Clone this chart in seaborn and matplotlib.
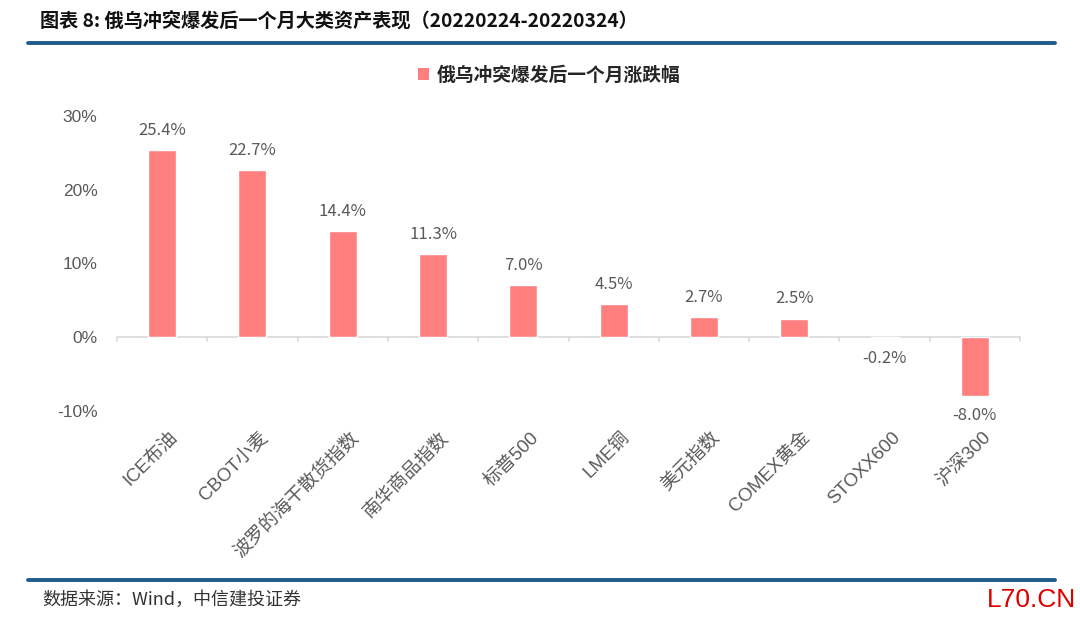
import matplotlib
matplotlib.use("Agg")
import matplotlib.pyplot as plt
import matplotlib.transforms as mtransforms
import seaborn as sns
import pandas as pd
from matplotlib.lines import Line2D
from matplotlib.patches import Patch

categories = ["ICE布油", "CBOT小麦", "波罗的海干散货指数", "南华商品指数", "标普500",
              "LME铜", "美元指数", "COMEX黄金", "STOXX600", "沪深300"]
values = [25.4, 22.7, 14.4, 11.3, 7.0, 4.5, 2.7, 2.5, -0.2, -8.0]
yticks = [-10, 0, 10, 20, 30]
series_name = "俄乌冲突爆发后一个月涨跌幅"
title = "图表 8: 俄乌冲突爆发后一个月大类资产表现（20220224-20220324）"
source = "数据来源：Wind，中信建投证券"
watermark = "L70.CN"

sns.set_theme(style="white")
plt.rcParams['font.family'] = ['Noto Sans CJK SC', 'DejaVu Sans']
plt.rcParams['axes.unicode_minus'] = False

bar_color = "#FF7F7F"
gray = "#595959"

df = pd.DataFrame({"cat": categories, "val": values})

fig = plt.figure(figsize=(10.8, 6.19), dpi=100)
ax = fig.add_axes([117/1080, 1-410.7/619, (1020-117)/1080, (410.7-116)/619])
sns.barplot(data=df, x="cat", y="val", color=bar_color, width=0.31, ax=ax, saturation=1)

ax.set_xlim(-0.5, len(categories)-0.5)
ax.set_ylim(-10, 30)
ax.set_yticks(yticks)
ax.set_yticklabels([f"{t}%" for t in yticks], fontsize=12.5, color=gray,
                   family=['Liberation Sans', 'DejaVu Sans'])
ax.set_xlabel("")
ax.set_ylabel("")
for s in ax.spines.values():
    s.set_visible(False)
ax.tick_params(axis='y', length=0, pad=14)
ax.tick_params(axis='x', length=0, pad=13)
ax.set_xticks(range(len(categories)))
ax.set_xticklabels(categories, rotation=45, ha='right', rotation_mode='anchor',
                   fontsize=13.5, color=gray, family=['Liberation Sans', 'Noto Sans CJK SC'])
offset = mtransforms.ScaledTranslation(7/100, 0, fig.dpi_scale_trans)
for lab in ax.get_xticklabels():
    lab.set_transform(lab.get_transform() + offset)

# zero baseline and boundary ticks
ax.axhline(0, color="#D9D9D9", lw=1.2, zorder=0)
for b in [i - 0.5 for i in range(len(categories)+1)]:
    ax.plot([b, b], [0, -0.6], color="#D9D9D9", lw=1.2, zorder=0, clip_on=False)

# data labels
for i, v in enumerate(values):
    if v >= 0:
        ax.annotate(f"{v:.1f}%", (i, v), xytext=(0, 8), textcoords="offset points",
                    ha='center', va='bottom', fontsize=12, color=gray)
    else:
        ax.annotate(f"{v:.1f}%", (i, v), xytext=(0, -8), textcoords="offset points",
                    ha='center', va='top', fontsize=12, color=gray)

# legend
handle = Patch(facecolor=bar_color, edgecolor='none')
fig.legend([handle], [series_name], loc='center', bbox_to_anchor=(549/1080, 1-75/619),
           frameon=False, prop={'size': 13.5, 'weight': 'bold'}, handlelength=0.6,
           handleheight=0.6, handletextpad=0.4)

# title and rules
fig.text(40/1080, 1-22/619, title, fontsize=13.8, fontweight='bold', va='center', ha='left',
         color="#111111")
fig.add_artist(Line2D([28/1080, 1055/1080], [1-43/619, 1-43/619], color="#1F5C8B", lw=2.8))
fig.add_artist(Line2D([28/1080, 1055/1080], [1-580/619, 1-580/619], color="#1F5C8B", lw=2.8))
fig.text(42/1080, 1-600/619, source, fontsize=13, style='italic', va='center', ha='left',
         color="#333333")
fig.text(1076/1080, 1-600/619, watermark, fontsize=19, va='center', ha='right',
         color="#DD0000", family=['Liberation Sans Narrow', 'Liberation Sans'])

fig.savefig("out.png", dpi=100)
